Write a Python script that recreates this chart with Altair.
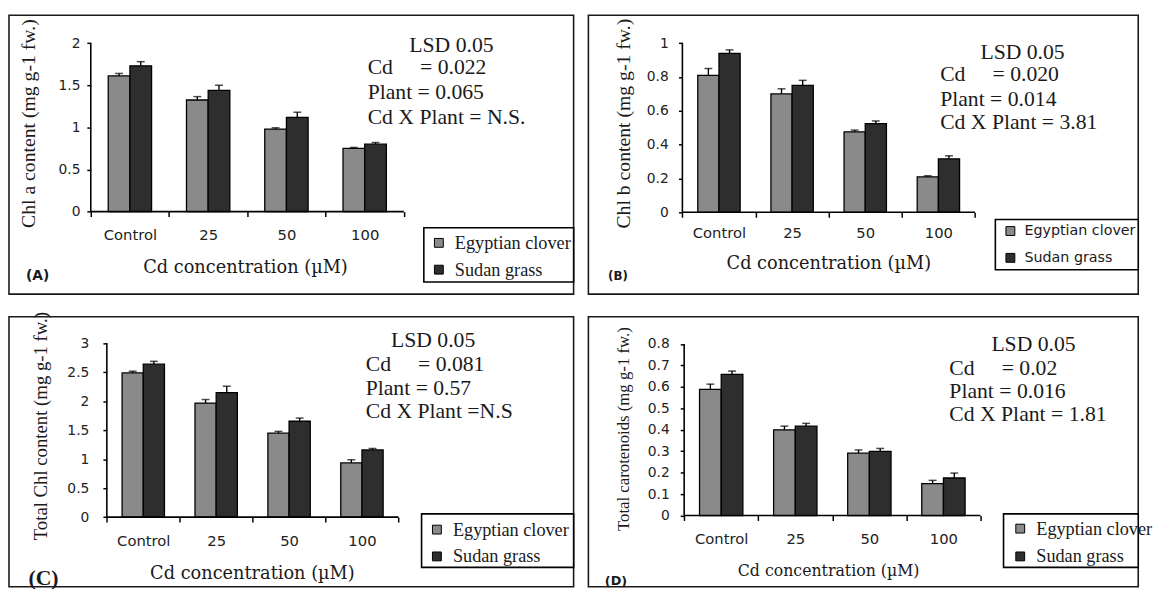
import re
import altair as alt
import pandas as pd

# ---------------- data ----------------
CATEGORIES = ["Control", "25", "50", "100"]
PLANTS = ["Egyptian clover", "Sudan grass"]
XTITLE = "Cd concentration (µM)"

A_CLOVER = [1.61, 1.325, 0.98, 0.75]
A_CLOVER_ERR = [0.03, 0.04, 0.015, 0.012]
A_SUDAN = [1.73, 1.44, 1.12, 0.80]
A_SUDAN_ERR = [0.05, 0.06, 0.06, 0.02]
A_TICKS = [0, 0.5, 1, 1.5, 2]
A_YTITLE = "Chl a content (mg g-1 fw.)"
A_LSD = ["LSD 0.05", "Cd     = 0.022", "Plant = 0.065", "Cd X Plant = N.S."]
A_TAG = "(A)"

B_CLOVER = [0.81, 0.70, 0.476, 0.21]
B_CLOVER_ERR = [0.04, 0.03, 0.01, 0.006]
B_SUDAN = [0.94, 0.75, 0.524, 0.316]
B_SUDAN_ERR = [0.02, 0.03, 0.016, 0.018]
B_TICKS = [0, 0.2, 0.4, 0.6, 0.8, 1]
B_YTITLE = "Chl b content (mg g-1 fw.)"
B_LSD = ["LSD 0.05", "Cd     = 0.020", "Plant = 0.014", "Cd X Plant = 3.81"]
B_TAG = "(B)"

C_CLOVER = [2.49, 1.97, 1.45, 0.935]
C_CLOVER_ERR = [0.03, 0.06, 0.03, 0.055]
C_SUDAN = [2.64, 2.15, 1.655, 1.16]
C_SUDAN_ERR = [0.05, 0.11, 0.055, 0.025]
C_TICKS = [0, 0.5, 1, 1.5, 2, 2.5, 3]
C_YTITLE = "Total Chl content (mg g-1 fw.)"
C_LSD = ["LSD 0.05", "Cd     = 0.081", "Plant = 0.57", "Cd X Plant =N.S"]
C_TAG = "(C)"

D_CLOVER = [0.589, 0.40, 0.291, 0.149]
D_CLOVER_ERR = [0.024, 0.017, 0.015, 0.015]
D_SUDAN = [0.659, 0.417, 0.299, 0.175]
D_SUDAN_ERR = [0.015, 0.013, 0.014, 0.023]
D_TICKS = [0, 0.1, 0.2, 0.3, 0.4, 0.5, 0.6, 0.7, 0.8]
D_YTITLE = "Total carotenoids (mg g-1 fw.)"
D_LSD = ["LSD 0.05", "Cd     = 0.02", "Plant = 0.016", "Cd X Plant = 1.81"]
D_TAG = "(D)"

# ---------------- styles / layout ----------------
SERIF = "Liberation Serif"
WSERIF = "DejaVu Serif"
SANS = "DejaVu Sans"
INK = "#1a1a1a"
FILLS = ["#8a8a8a", "#2e2e2e"]

LAYOUT = {
    "A": dict(W=573, H=283, L=83, R=400.7, y0=199.3, yt=28.3, bar=22, ylab_right=72, xlab_y=222,
              ytitle=(20, 110, 20), xtitle=(240, 257, 18, WSERIF), tag=(29, 265, 14, SANS),
              lsd_c=449, lsd_x=364, lsd_y=[30, 53, 78, 103], lsd_fs=22,
              box=(421, 215.7, 573, 270.7), sym=427, rows=(231, 257.7), leg_font=SERIF, leg_fs=18.5),
    "B": dict(W=558, H=283, L=95.4, R=392.3, y0=200, yt=28.3, bar=21.5, ylab_right=81, xlab_y=220,
              ytitle=(36, 110, 20), xtitle=(244, 253, 18, WSERIF), tag=(30, 265, 12, SANS),
              lsd_c=440.6, lsd_x=357, lsd_y=[37, 60, 85, 108], lsd_fs=22,
              box=(413, 207.3, 558, 258.3), sym=421, rows=(219, 245.7), leg_font=SANS, leg_fs=14.5),
    "C": dict(W=573, H=274, L=99.3, R=395.2, y0=203.3, yt=27, bar=21.5, ylab_right=81, xlab_y=227,
              ytitle=(32.7, 111, 19), xtitle=(247, 261, 18, WSERIF), tag=(35, 265, 22, SERIF),
              lsd_c=430.4, lsd_x=362, lsd_y=[24, 48, 72, 96], lsd_fs=22,
              box=(418.7, 200, 573, 254.3), sym=425, rows=(216, 242.7), leg_font=SERIF, leg_fs=18.5),
    "D": dict(W=558, H=274, L=97.2, R=397.9, y0=201.7, yt=27.7, bar=22, ylab_right=82, xlab_y=224.3,
              ytitle=(36, 114, 17), xtitle=(243.8, 258, 16, WSERIF), tag=(28, 268, 13, SANS),
              lsd_c=451.7, lsd_x=366.3, lsd_y=[28, 52, 75, 99], lsd_fs=22,
              box=(421.3, 200, 558, 254.3), sym=429, rows=(215, 242.7), leg_font=SERIF, leg_fs=18.5),
}


def keep_spaces(s):
    return re.sub(r" {2,}", lambda m: "\u00a0" * len(m.group()), s)


def y_domain(H, y0, yt, vt):
    k = vt / (y0 - yt)
    lo = -(H - y0) * k
    return [lo, lo + H * k]


def text_layer(s, x, y, font, size, align="left", angle=0, weight="normal"):
    kw = dict(align=align, baseline="middle", font=font, fontSize=size, color=INK, fontWeight=weight)
    if angle:
        kw["angle"] = angle
    return alt.Chart(alt.Data(values=[{"t": keep_spaces(s)}])).mark_text(**kw).encode(
        x=alt.value(x), y=alt.value(y), text="t:N")


def panel(key, clover, clover_err, sudan, sudan_err, ticks, ytitle, lsd, tag):
    lay = LAYOUT[key]
    W, H, L, R = lay["W"], lay["H"], lay["L"], lay["R"]
    rows = []
    for i, c in enumerate(CATEGORIES):
        rows.append({"cat": c, "plant": PLANTS[0], "value": clover[i], "upper": clover[i] + clover_err[i]})
        rows.append({"cat": c, "plant": PLANTS[1], "value": sudan[i], "upper": sudan[i] + sudan_err[i]})
    df = pd.DataFrame(rows)

    step = (R - L) / 4
    p2 = (step / lay["bar"] - 2) / 2

    yscale = alt.Scale(domain=y_domain(H, lay["y0"], lay["yt"], ticks[-1]), nice=False, zero=False)
    xscale = alt.Scale(domain=CATEGORIES, paddingInner=0, paddingOuter=0, range=[L, R])
    oscale = alt.Scale(domain=PLANTS, paddingInner=0, paddingOuter=p2)
    cscale = alt.Scale(domain=PLANTS, range=FILLS)

    xfs = 15
    x_axis = alt.Axis(title=None, domain=False, grid=False, tickBand="extent", tickSize=5, tickWidth=1.5,
                      tickColor="black", labelFont=SANS, labelFontSize=xfs, labelColor="#222", labelAngle=0,
                      labelOverlap=False,
                      labelPadding=lay["xlab_y"] - 6.5 - lay["y0"] - 5, offset=lay["y0"] - H)
    y_axis = alt.Axis(title=None, domain=False, grid=False, values=ticks, format="~g", tickSize=4,
                      tickWidth=1.5, tickColor="black", labelFont=SANS, labelFontSize=14, labelColor="#222",
                      labelOverlap=False, labelFlush=False,
                      labelPadding=L - 4 - lay["ylab_right"], offset=-L)

    def Y(field):
        return alt.Y(field, scale=yscale, axis=y_axis)

    def X(field):
        return alt.X(field, scale=xscale, sort=CATEGORIES, axis=x_axis)

    fs = lay["leg_fs"]
    r1, r2 = lay["rows"]
    legend = alt.Legend(orient="none", legendX=lay["sym"], legendY=r1 - fs / 2, title=None, padding=0,
                        symbolType="square", symbolSize=81, symbolStrokeColor="black", symbolStrokeWidth=1,
                        labelFont=lay["leg_font"], labelFontSize=fs, labelColor=INK, labelOffset=7,
                        rowPadding=(r2 - r1) - fs, direction="vertical")

    bx1, by1, bx2, by2 = lay["box"]
    legbox = alt.Chart(alt.Data(values=[{}])).mark_rect(fill="white", stroke="black", strokeWidth=1.6).encode(
        x=alt.value(bx1), x2=alt.value(bx2), y=alt.value(by1), y2=alt.value(by2))

    base = alt.Chart(df)
    bars = base.mark_bar(stroke="black", strokeWidth=1.3).encode(
        x=X("cat:N"),
        xOffset=alt.XOffset("plant:N", scale=oscale, sort=PLANTS),
        y=Y("value:Q"),
        color=alt.Color("plant:N", scale=cscale, legend=legend),
    )
    err = base.mark_rule(color="black", strokeWidth=1.4).encode(
        x=X("cat:N"), xOffset="plant:N", y=Y("value:Q"), y2="upper:Q")
    caps = base.mark_tick(color="black", thickness=1.5, size=8, orient="horizontal").encode(
        x=X("cat:N"), xOffset="plant:N", y=Y("upper:Q"))

    axes = alt.Chart(alt.Data(values=[{"lo": 0, "hi": ticks[-1]}]))
    yline = axes.mark_rule(color="black", strokeWidth=1.6).encode(
        x=alt.value(L), y=Y("lo:Q"), y2="hi:Q")
    xline = axes.mark_rule(color="black", strokeWidth=1.6).encode(
        x=alt.value(L), x2=alt.value(R), y=Y("lo:Q"))

    tx, ty, tfs = lay["ytitle"]
    xtx, xty, xtfs, xtfont = lay["xtitle"]
    gx, gy, gfs, gfont = lay["tag"]
    texts = [
        text_layer(ytitle, tx, ty, SERIF, tfs, align="center", angle=270),
        text_layer(XTITLE, xtx, xty, xtfont, xtfs, align="center"),
        text_layer(tag, gx, gy, gfont, gfs, align="center", weight="bold"),
        text_layer(lsd[0], lay["lsd_c"], lay["lsd_y"][0], SERIF, lay["lsd_fs"], align="center"),
    ]
    for s, yy in zip(lsd[1:], lay["lsd_y"][1:]):
        texts.append(text_layer(s, lay["lsd_x"], yy, SERIF, lay["lsd_fs"]))

    return alt.layer(legbox, bars, err, caps, yline, xline, *texts).properties(width=W, height=H)


pA = panel("A", A_CLOVER, A_CLOVER_ERR, A_SUDAN, A_SUDAN_ERR, A_TICKS, A_YTITLE, A_LSD, A_TAG)
pB = panel("B", B_CLOVER, B_CLOVER_ERR, B_SUDAN, B_SUDAN_ERR, B_TICKS, B_YTITLE, B_LSD, B_TAG)
pC = panel("C", C_CLOVER, C_CLOVER_ERR, C_SUDAN, C_SUDAN_ERR, C_TICKS, C_YTITLE, C_LSD, C_TAG)
pD = panel("D", D_CLOVER, D_CLOVER_ERR, D_SUDAN, D_SUDAN_ERR, D_TICKS, D_YTITLE, D_LSD, D_TAG)


def indep(ch):
    return ch.resolve_scale(x="independent", y="independent", xOffset="independent",
                            color="independent").resolve_legend(color="independent")


row1 = indep(alt.hconcat(pA, pB, spacing=15, bounds="flush"))
row2 = indep(alt.hconcat(pC, pD, spacing=15, bounds="flush"))
chart = indep(alt.vconcat(row1, row2, spacing=16)).properties(
    padding={"left": 0, "top": 2, "right": 0, "bottom": 0}, background="white"
).configure_view(stroke="#1a1a1a", strokeWidth=1.6)

chart.save("out.html", embed_options={"renderer": "svg", "actions": False})
